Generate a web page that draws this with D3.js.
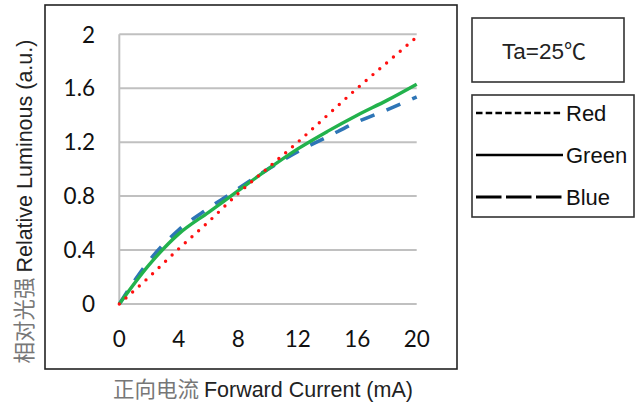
<!DOCTYPE html>
<html><head><meta charset="utf-8">
<script src="https://cdn.jsdelivr.net/npm/d3@7"></script>
<style>body{margin:0;background:#fff}svg{display:block}</style>
</head><body>
<script>
const currents = [0, 2, 4, 6, 8, 10, 12, 14, 16, 18, 20];
const redValues = [0, 0.20, 0.41, 0.61, 0.82, 1.01, 1.20, 1.40, 1.60, 1.79, 1.98];
const greenValues = [0, 0.29, 0.52, 0.68, 0.84, 1.00, 1.15, 1.28, 1.40, 1.51, 1.63];
const blueValues = [0, 0.32, 0.55, 0.71, 0.855, 1.00, 1.13, 1.24, 1.35, 1.44, 1.535];
const xTicks = [0, 4, 8, 12, 16, 20];
const yTicks = [0, 0.4, 0.8, 1.2, 1.6, 2];
const yTickLabels = ["0", "0.4", "0.8", "1.2", "1.6", "2"];
const seriesNames = ["Red", "Green", "Blue"];

const W = 639, H = 403;
const svg = d3.select("body").append("svg").attr("width", W).attr("height", H);

const x = d3.scaleLinear().domain([0, 20]).range([119.3, 416.7]);
const y = d3.scaleLinear().domain([0, 2]).range([304, 34.3]);

// outer frame
svg.append("rect").attr("x", 45).attr("y", 5).attr("width", 412).attr("height", 364)
  .attr("fill", "none").attr("stroke", "#222").attr("stroke-width", 1.6);

// gridlines
svg.append("g").selectAll("line").data(yTicks).join("line")
  .attr("x1", x(0)).attr("x2", x(20)).attr("y1", d => y(d)).attr("y2", d => y(d))
  .attr("stroke", "#c0c0c0").attr("stroke-width", 2);
svg.append("line").attr("x1", x(0)).attr("x2", x(0)).attr("y1", y(2)).attr("y2", y(0))
  .attr("stroke", "#c0c0c0").attr("stroke-width", 2);

// tick labels
svg.append("g").selectAll("text").data(yTicks).join("text")
  .attr("x", 95).attr("y", d => y(d) + 8.2).attr("text-anchor", "end")
  .attr("font-family", "Lato, sans-serif").attr("font-size", 22.5).attr("fill", "#111")
  .text((d, i) => yTickLabels[i]);
svg.append("g").selectAll("text").data(xTicks).join("text")
  .attr("x", d => x(d)).attr("y", 347).attr("text-anchor", "middle")
  .attr("font-family", "Lato, sans-serif").attr("font-size", 22.5).attr("fill", "#111")
  .text(d => d);

// lines
const mk = vals => currents.map((c, i) => [c, vals[i]]);
const line = d3.line().x(d => x(d[0])).y(d => y(d[1])).curve(d3.curveMonotoneX);
svg.append("path").attr("d", line(mk(blueValues))).attr("fill", "none")
  .attr("stroke", "#2e75b6").attr("stroke-width", 3.6).attr("stroke-dasharray", "15 13");
svg.append("path").attr("d", line(mk(greenValues))).attr("fill", "none")
  .attr("stroke", "#22b24c").attr("stroke-width", 3.4);
svg.append("path").attr("d", line(mk(redValues))).attr("fill", "none")
  .attr("stroke", "#ff1010").attr("stroke-width", 3.4).attr("stroke-linecap", "round")
  .attr("stroke-dasharray", "0 9");

// axis titles
const xt = svg.append("text").attr("x", 263).attr("y", 397).attr("text-anchor", "middle")
  .attr("font-family", "'Liberation Sans', Arial, sans-serif").attr("font-size", 21.5);
xt.append("tspan").attr("font-family", "'Noto Sans CJK SC'").attr("fill", "#777").text("正向电流 ");
xt.append("tspan").attr("fill", "#222").text("Forward Current (mA)");

const yt = svg.append("text").attr("transform", "translate(32,201.5) rotate(-90)").attr("text-anchor", "middle")
  .attr("font-family", "'Liberation Sans', Arial, sans-serif").attr("font-size", 21.5);
yt.append("tspan").attr("font-family", "'Noto Sans CJK SC'").attr("fill", "#777").text("相对光强 ");
yt.append("tspan").attr("fill", "#222").text("Relative Luminous (a.u.)");

// Ta box
svg.append("rect").attr("x", 472).attr("y", 18).attr("width", 152).attr("height", 64)
  .attr("fill", "none").attr("stroke", "#333").attr("stroke-width", 1.6);
const ta = svg.append("text").attr("x", 502).attr("y", 59)
  .attr("font-family", "'Liberation Sans', Arial, sans-serif").attr("font-size", 22.5).attr("fill", "#222");
ta.append("tspan").text("Ta=25");
ta.append("tspan").attr("font-family", "'Noto Sans CJK SC'").attr("font-size", 22).text("℃");

// legend
svg.append("rect").attr("x", 472).attr("y", 95).attr("width", 162).attr("height", 122)
  .attr("fill", "none").attr("stroke", "#333").attr("stroke-width", 1.6);
const legY = [113, 155, 197];
const legDash = ["6.5 3.2", null, "25.5 4.5"];
const legW = [2.6, 2.4, 2.8];
const lg = svg.append("g").selectAll("g").data(seriesNames).join("g");
lg.append("line").attr("x1", 476).attr("x2", 563).attr("y1", (d, i) => legY[i]).attr("y2", (d, i) => legY[i])
  .attr("stroke", "#000").attr("stroke-width", (d, i) => legW[i]).attr("stroke-dasharray", (d, i) => legDash[i]);
lg.append("text").attr("x", 566).attr("y", (d, i) => legY[i] + 8)
  .attr("font-family", "'Liberation Sans', Arial, sans-serif").attr("font-size", 22).attr("fill", "#111")
  .text(d => d);
</script>
</body></html>
